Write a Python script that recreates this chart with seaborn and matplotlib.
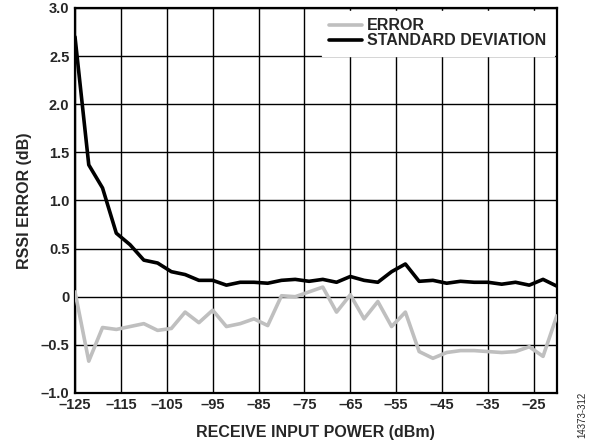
import numpy as np
import pandas as pd
import matplotlib
matplotlib.use("Agg")
import matplotlib.pyplot as plt
import seaborn as sns

# receive input power, 3 dB steps
power = [-125, -122, -119, -116, -113, -110, -107, -104, -101, -98, -95, -92,
         -89, -86, -83, -80, -77, -74, -71, -68, -65, -62, -59, -56,
         -53, -50, -47, -44, -41, -38, -35, -32, -29, -26, -23, -20]

error = [0.05, -0.67, -0.32, -0.34, -0.31, -0.28, -0.35, -0.33, -0.16, -0.27, -0.14, -0.31,
         -0.28, -0.23, -0.30, 0.01, 0.0, 0.05, 0.10, -0.16, 0.02, -0.23, -0.05, -0.31,
         -0.16, -0.57, -0.64, -0.58, -0.56, -0.56, -0.57, -0.58, -0.57, -0.52, -0.62, -0.20]

std_dev = [2.70, 1.37, 1.13, 0.66, 0.54, 0.38, 0.35, 0.26, 0.23, 0.17, 0.17, 0.12,
           0.15, 0.15, 0.14, 0.17, 0.18, 0.16, 0.18, 0.15, 0.21, 0.17, 0.15, 0.26,
           0.34, 0.16, 0.17, 0.14, 0.16, 0.15, 0.15, 0.13, 0.15, 0.12, 0.18, 0.11]

df = pd.DataFrame({
    'power': power * 2,
    'value': error + std_dev,
    'series': ['ERROR'] * len(power) + ['STANDARD DEVIATION'] * len(power),
})

sns.set_style("white")
plt.rcParams['font.family'] = ['Liberation Sans', 'DejaVu Sans']
plt.rcParams['font.weight'] = 'bold'

fig = plt.figure(figsize=(6, 4.44), dpi=100)
ax = fig.add_axes([0.125, 0.115, 0.803, 0.867])

sns.lineplot(data=df, x='power', y='value', hue='series',
             palette={'ERROR': '#bfbfbf', 'STANDARD DEVIATION': '#000000'},
             linewidth=2.6, ax=ax, zorder=3)

ax.set_xlim(-125, -20)
ax.set_ylim(-1.0, 3.0)
ax.set_xticks(np.arange(-125, -24, 10))
ax.set_yticks(np.arange(-1.0, 3.01, 0.5))
ax.set_yticklabels(['–1.0', '–0.5', '0', '0.5', '1.0', '1.5', '2.0', '2.5', '3.0'])
ax.set_xticklabels(['–125', '–115', '–105', '–95', '–85', '–75', '–65', '–55', '–45', '–35', '–25'])
ax.tick_params(length=0, labelsize=10.5, pad=4)
for lab in ax.get_xticklabels() + ax.get_yticklabels():
    lab.set_fontweight('bold')

ax.grid(True, color='black', linewidth=1.0)
for sp in ax.spines.values():
    sp.set_color('black')
    sp.set_linewidth(1.6)

ax.set_xlabel('RECEIVE INPUT POWER (dBm)', fontsize=11.5, fontweight='bold', labelpad=9)
ax.set_ylabel('RSSI ERROR (dB)', fontsize=11.5, fontweight='bold', labelpad=6)

leg = ax.legend(loc='upper right', frameon=True, fancybox=False, edgecolor='white',
                framealpha=1, fontsize=11.5, handlelength=2.1, handletextpad=0.3,
                labelspacing=0.0, borderaxespad=0.2, borderpad=0.45)
leg.set_zorder(5)
for t in leg.get_texts():
    t.set_fontweight('bold')

fig.text(0.97, 0.014, '14373-312', rotation=90, fontsize=7, fontweight='normal',
         ha='center', va='bottom')

fig.savefig('out.png', dpi=100)
